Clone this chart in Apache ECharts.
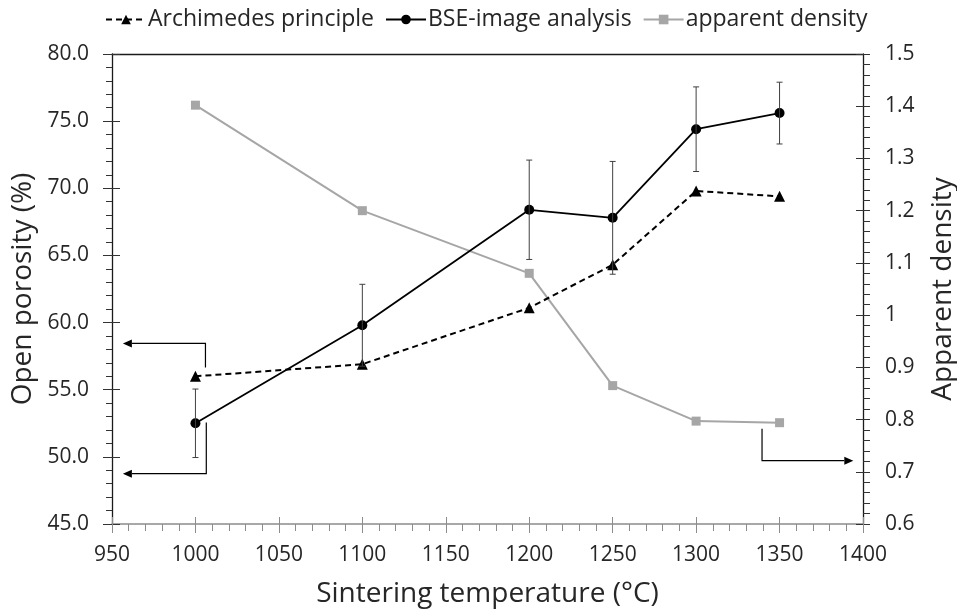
<!DOCTYPE html>
<html>
<head>
<meta charset="utf-8">
<script src="https://cdn.jsdelivr.net/npm/echarts@6/dist/echarts.min.js"></script>
<style>
html,body{margin:0;padding:0;background:#fff;overflow:hidden;}
#c{width:957px;height:610px;}
</style>
</head>
<body>
<div id="c"></div>
<script>
// ---- data ----
const temps = [1000, 1100, 1200, 1250, 1300, 1350];
const archimedes = [56.0, 56.9, 61.1, 64.3, 69.8, 69.4];
const bse = [52.5, 59.8, 68.4, 67.8, 74.4, 75.6];
const bseErr = [2.55, 3.05, 3.7, 4.2, 3.15, 2.3];
const density = [1.402, 1.200, 1.080, 0.865, 0.797, 0.794];
const seriesNames = ['Archimedes principle', 'BSE-image analysis', 'apparent density'];

// annotation arrows (in data units): [x of vertical, yStart, yCorner, xTip, yAxisIndex]
const arrows = [
  [1006, 56.65, 58.45, 956.5, 0],
  [1006.5, 52.55, 48.75, 956.5, 0],
  [1339.5, 0.7825, 0.7212, 1394.2, 1]
];

const chart = echarts.init(document.getElementById('c'), null, {renderer: 'canvas'});
const FONT = '"Open Sans", sans-serif';
const txt = '#262626';

function pairs(ys) { return temps.map((t, i) => [t, ys[i]]); }

const xCommon = {type: 'value', min: 950, max: 1400, interval: 50, splitLine: {show: false}};
const yLCommon = {type: 'value', min: 45, max: 80, interval: 5, splitLine: {show: false}};
const yRCommon = {type: 'value', min: 0.6, max: 1.5, interval: 0.1, splitLine: {show: false}};

const option = {
  animation: false,
  backgroundColor: '#fff',
  grid: {left: 112, right: 94, top: 54, bottom: 86, containLabel: false, outerBoundsMode: 'none'},
  legend: {
    data: seriesNames,
    left: 100, top: 3,
    itemWidth: 40, itemHeight: 12, itemGap: 11,
    textStyle: {fontFamily: FONT, fontSize: 23, color: txt, padding: [0, 0, 0, -3]}
  },
  xAxis: [
    Object.assign({}, xCommon, {
      position: 'bottom',
      name: 'Sintering temperature (°C)', nameLocation: 'middle', nameGap: 56,
      nameTextStyle: {fontFamily: FONT, fontSize: 28, color: txt},
      axisLine: {show: true, lineStyle: {color: '#8c8c8c', width: 1.5}},
      axisTick: {show: true, inside: false, length: 9, lineStyle: {color: '#8c8c8c'}},
      minorTick: {show: true, splitNumber: 5, length: 7, lineStyle: {color: '#8c8c8c'}},
      axisLabel: {fontFamily: FONT, fontSize: 21, color: txt, margin: 21,
        formatter: v => String(v)}
    }),
    Object.assign({}, xCommon, {
      position: 'bottom',
      axisLine: {show: false},
      axisTick: {show: true, inside: true, length: 7, lineStyle: {color: '#8c8c8c'}},
      axisLabel: {show: false}
    }),
    Object.assign({}, xCommon, {
      position: 'top',
      axisLine: {show: true, lineStyle: {color: '#1a1a1a', width: 1.3}},
      axisTick: {show: false}, axisLabel: {show: false}
    })
  ],
  yAxis: [
    Object.assign({}, yLCommon, {
      position: 'left',
      name: 'Open porosity (%)', nameLocation: 'middle', nameGap: 75,
      nameTextStyle: {fontFamily: FONT, fontSize: 28, color: txt},
      axisLine: {show: true, lineStyle: {color: '#1a1a1a', width: 1.3}},
      axisTick: {show: true, inside: false, length: 9, lineStyle: {color: '#333'}},
      minorTick: {show: true, splitNumber: 5, length: 6, lineStyle: {color: '#333'}},
      axisLabel: {fontFamily: FONT, fontSize: 21, color: txt, margin: 23,
        formatter: v => v.toFixed(1)}
    }),
    Object.assign({}, yRCommon, {
      position: 'right',
      name: 'Apparent density', nameLocation: 'middle', nameGap: 66,
      nameRotate: 90,
      nameTextStyle: {fontFamily: FONT, fontSize: 28, color: txt},
      axisLine: {show: true, lineStyle: {color: '#1a1a1a', width: 1.3}},
      axisTick: {show: true, inside: false, length: 7, lineStyle: {color: '#333'}},
      minorTick: {show: true, splitNumber: 5, length: 7, lineStyle: {color: '#333'}},
      axisLabel: {fontFamily: FONT, fontSize: 21, color: txt, margin: 22,
        formatter: v => String(Number(v.toFixed(1)))}
    }),
    Object.assign({}, yLCommon, {
      position: 'left',
      axisLine: {show: false},
      axisTick: {show: true, inside: true, length: 8, lineStyle: {color: '#333'}},
      axisLabel: {show: false}
    }),
    Object.assign({}, yRCommon, {
      position: 'right',
      axisLine: {show: false},
      axisTick: {show: true, inside: true, length: 7, lineStyle: {color: '#333'}},
      axisLabel: {show: false}
    })
  ],
  series: [
    {
      name: seriesNames[2], type: 'line', xAxisIndex: 0, yAxisIndex: 1,
      data: pairs(density), symbol: 'rect', symbolSize: 9,
      itemStyle: {color: '#a6a6a6'}, lineStyle: {color: '#a6a6a6', width: 2}, z: 2
    },
    {
      name: seriesNames[0], type: 'line', xAxisIndex: 0, yAxisIndex: 0,
      data: pairs(archimedes), symbol: 'triangle', symbolSize: 11,
      itemStyle: {color: '#000'}, lineStyle: {color: '#000', width: 2, type: [6, 4]}, z: 3
    },
    {
      name: seriesNames[1], type: 'line', xAxisIndex: 0, yAxisIndex: 0,
      data: pairs(bse), symbol: 'circle', symbolSize: 10,
      itemStyle: {color: '#000'}, lineStyle: {color: '#000', width: 1.8}, z: 4
    },
    {
      name: 'err', type: 'custom', xAxisIndex: 0, yAxisIndex: 0, z: 5,
      data: temps.map((t, i) => [t, bse[i] - bseErr[i], bse[i] + bseErr[i]]),
      renderItem: function (params, api) {
        const x = api.value(0);
        const lo = api.coord([x, api.value(1)]);
        const hi = api.coord([x, api.value(2)]);
        const hw = 3;
        const st = {stroke: '#404040', lineWidth: 1};
        return {type: 'group', children: [
          {type: 'line', shape: {x1: lo[0], y1: lo[1], x2: hi[0], y2: hi[1]}, style: st},
          {type: 'line', shape: {x1: lo[0] - hw, y1: lo[1], x2: lo[0] + hw, y2: lo[1]}, style: st},
          {type: 'line', shape: {x1: hi[0] - hw, y1: hi[1], x2: hi[0] + hw, y2: hi[1]}, style: st}
        ]};
      }
    }
  ]
};
chart.setOption(option);

// annotation arrows
const g = [];
arrows.forEach(a => {
  const idx = {xAxisIndex: 0, yAxisIndex: a[4]};
  const p0 = chart.convertToPixel(idx, [a[0], a[1]]);
  const p1 = chart.convertToPixel(idx, [a[0], a[2]]);
  const p2 = chart.convertToPixel(idx, [a[3], a[2]]);
  const dir = p2[0] > p1[0] ? 1 : -1;
  const L = 9, W = 4;
  const base = p2[0] - dir * L;
  g.push({type: 'polyline', shape: {points: [[p0[0], p0[1]], [p1[0], p1[1]], [base, p1[1]]]},
    style: {stroke: '#000', lineWidth: 1.2, fill: null}, z: 10});
  g.push({type: 'polygon', shape: {points: [[p2[0], p2[1]], [base, p2[1] - W], [base, p2[1] + W]]},
    style: {fill: '#000'}, z: 10});
});
chart.setOption({graphic: g});
</script>
</body>
</html>
